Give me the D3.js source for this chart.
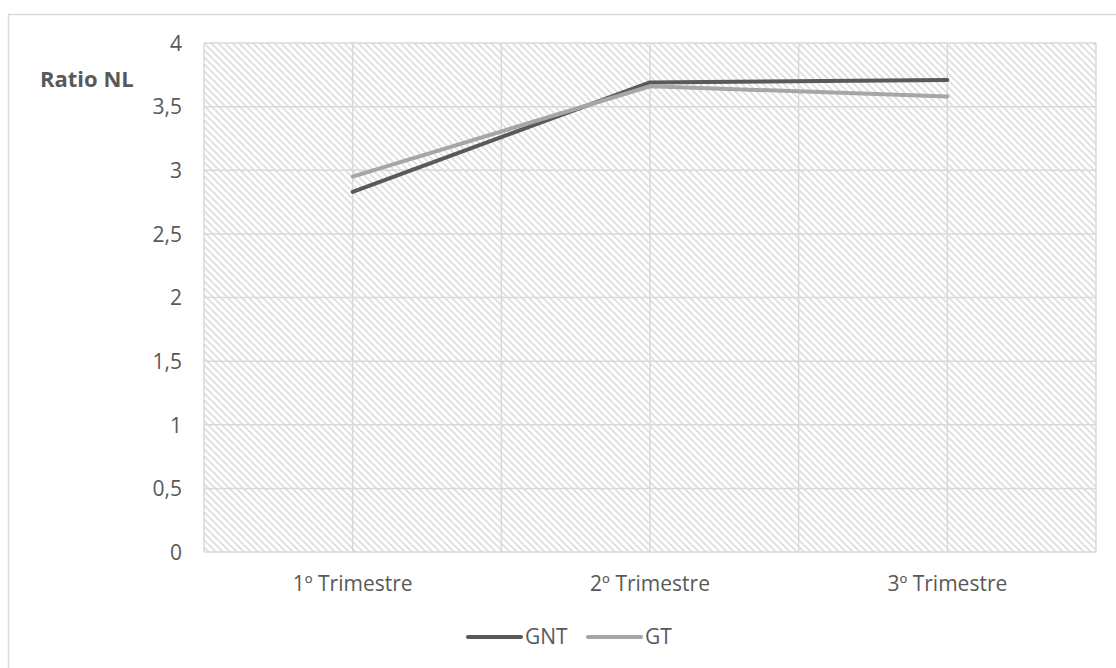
<!DOCTYPE html>
<html><head><meta charset="utf-8">
<script src="https://cdn.jsdelivr.net/npm/d3@7"></script>
<style>body{margin:0;background:#fff}svg{display:block}text{font-family:"Open Sans",sans-serif;fill:#595959}</style>
</head><body>
<svg id="c" width="1116" height="668"></svg>
<script>
const categories = ["1º Trimestre","2º Trimestre","3º Trimestre"];
const gntValues = [2.83, 3.69, 3.71];
const gtValues = [2.95, 3.66, 3.58];
const yTicks = [0,0.5,1,1.5,2,2.5,3,3.5,4];
const seriesNames = ["GNT","GT"];
const seriesColors = ["#595959","#a6a6a6"];
const yTitle = "Ratio NL";

const svg = d3.select("#c");
const m = {l:204, r:1096, t:43, b:552};
const FS = 21;

svg.append("rect").attr("x",8.5).attr("y",14.5).attr("width",1200).attr("height",800)
  .attr("fill","#fff").attr("stroke","#d9d9d9").attr("stroke-width",1.5);

const defs = svg.append("defs");
const P = 7;
const pat = defs.append("pattern").attr("id","hatch").attr("patternUnits","userSpaceOnUse")
  .attr("width",P).attr("height",P);
pat.append("rect").attr("width",P).attr("height",P).attr("fill","#fff");
pat.append("path").attr("d",`M-2,-2 L${P+2},${P+2} M${-P-2},-2 L2,${P+2} M${P-2},-2 L${2*P+2},${P+2}`)
  .attr("stroke","#dedede").attr("stroke-width",1.7);

const x = d3.scaleBand().domain(categories).range([m.l,m.r]).paddingInner(0).paddingOuter(0);
const y = d3.scaleLinear().domain([0,4]).range([m.b,m.t]);

svg.append("rect").attr("x",m.l).attr("y",m.t).attr("width",m.r-m.l).attr("height",m.b-m.t)
  .attr("fill","url(#hatch)");

svg.append("g").selectAll("line").data(yTicks).join("line")
  .attr("x1",m.l).attr("x2",m.r).attr("y1",d=>y(d)).attr("y2",d=>y(d))
  .attr("stroke","#d9d9d9").attr("stroke-width",1.5);
const vx = [];
categories.forEach(c=>{vx.push(x(c)); vx.push(x(c)+x.bandwidth()/2);});
vx.push(m.r);
svg.append("g").selectAll("line").data(vx).join("line")
  .attr("x1",d=>d).attr("x2",d=>d).attr("y1",m.t).attr("y2",m.b)
  .attr("stroke","#d9d9d9").attr("stroke-width",1.5);

const yAxis = d3.axisLeft(y).tickValues(yTicks).tickSize(0).tickPadding(0)
  .tickFormat(d=>String(d).replace(".",","));
const ga = svg.append("g").attr("transform",`translate(${m.l-22},0)`).call(yAxis);
ga.select(".domain").remove();
ga.selectAll("text").attr("font-size",FS).attr("fill","#595959").attr("font-family","Open Sans")
  .attr("dy","0.35em");

const xAxis = d3.axisBottom(x).tickSize(0).tickPadding(0);
const gx = svg.append("g").attr("transform",`translate(0,${m.b})`).call(xAxis);
gx.select(".domain").remove();
gx.selectAll("text").attr("font-size",FS).attr("fill","#595959").attr("font-family","Open Sans")
  .attr("y",39).attr("dy",0);

svg.append("text").attr("x",40).attr("y",87).attr("font-size",22).attr("font-weight","bold")
  .text(yTitle);

const line = d3.line().x((d,i)=>x(categories[i])+x.bandwidth()/2).y(d=>y(d));
[gntValues,gtValues].forEach((vals,i)=>{
  svg.append("path").datum(vals).attr("d",line).attr("fill","none")
    .attr("stroke",seriesColors[i]).attr("stroke-width",4).attr("stroke-linecap","round")
    .attr("stroke-linejoin","round");
});
const legX = [468, 588];
seriesNames.forEach((n,i)=>{
  svg.append("line").attr("x1",legX[i]).attr("x2",legX[i]+53).attr("y1",637).attr("y2",637)
    .attr("stroke",seriesColors[i]).attr("stroke-width",4).attr("stroke-linecap","round");
  svg.append("text").attr("x",legX[i]+57).attr("y",644).attr("font-size",FS).text(n);
});
</script>
</body></html>
